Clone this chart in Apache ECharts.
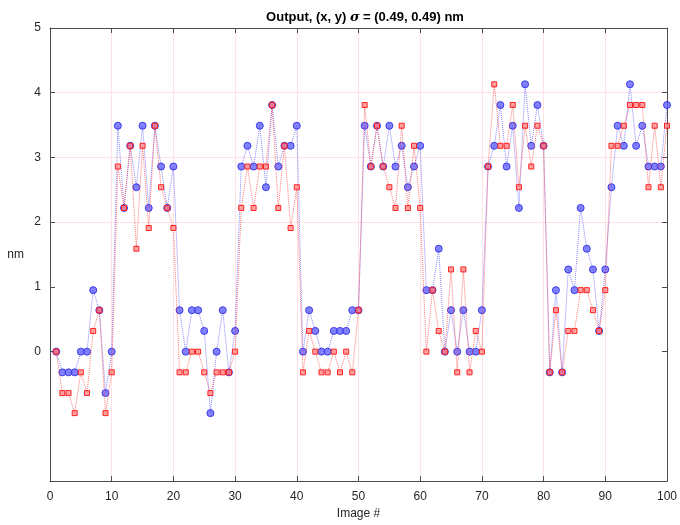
<!DOCTYPE html>
<html>
<head>
<meta charset="utf-8">
<script src="https://cdn.jsdelivr.net/npm/echarts@6/dist/echarts.min.js"></script>
<style>html,body{margin:0;padding:0;background:#fff}#c{width:680px;height:525px}</style>
</head>
<body>
<div id="c"></div>
<script>
// Image numbers 1..100
const imageNumbers = [];
for (let i = 1; i <= 100; i++) imageNumbers.push(i);

// x output (blue circles), nm
const xOutput = [
  0, -0.32, -0.32, -0.32, 0, 0, 0.95, 0.64, -0.64, 0,
  3.49, 2.22, 3.18, 2.54, 3.49, 2.22, 3.49, 2.86, 2.22, 2.86,
  0.64, 0, 0.64, 0.64, 0.32, -0.95, 0, 0.64, -0.32, 0.32,
  2.86, 3.18, 2.86, 3.49, 2.54, 3.81, 2.86, 3.18, 3.18, 3.49,
  0, 0.64, 0.32, 0, 0, 0.32, 0.32, 0.32, 0.64, 0.64,
  3.49, 2.86, 3.49, 2.86, 3.49, 2.86, 3.18, 2.54, 2.86, 3.18,
  0.95, 0.95, 1.59, 0, 0.64, 0, 0.64, 0, 0, 0.64,
  2.86, 3.18, 3.81, 2.86, 3.49, 2.22, 4.13, 3.18, 3.81, 3.18,
  -0.32, 0.95, -0.32, 1.27, 0.95, 2.22, 1.59, 1.27, 0.32, 1.27,
  2.54, 3.49, 3.18, 4.13, 3.18, 3.49, 2.86, 2.86, 2.86, 3.81
];

// y output (red squares), nm
const yOutput = [
  0, -0.64, -0.64, -0.95, -0.32, -0.64, 0.32, 0.64, -0.95, -0.32,
  2.86, 2.22, 3.18, 1.59, 3.18, 1.91, 3.49, 2.54, 2.22, 1.91,
  -0.32, -0.32, 0, 0, -0.32, -0.64, -0.32, -0.32, -0.32, 0,
  2.22, 2.86, 2.22, 2.86, 2.86, 3.81, 2.22, 3.18, 1.91, 2.54,
  -0.32, 0.32, 0, -0.32, -0.32, 0, -0.32, 0, -0.32, 0.64,
  3.81, 2.86, 3.49, 2.86, 2.54, 2.22, 3.49, 2.22, 3.18, 2.22,
  0, 0.95, 0.32, 0, 1.27, -0.32, 1.27, -0.32, 0.32, 0,
  2.86, 4.13, 3.18, 3.18, 3.81, 2.54, 3.49, 2.86, 3.49, 3.18,
  -0.32, 0.64, -0.32, 0.32, 0.32, 0.95, 0.95, 0.64, 0.32, 0.95,
  3.18, 3.18, 3.49, 3.81, 3.81, 3.81, 2.54, 3.49, 2.54, 3.49
];

const xTicks = [0, 10, 20, 30, 40, 50, 60, 70, 80, 90, 100];
const yTicks = [0, 1, 2, 3, 4, 5];

const pairs = (xs, ys) => xs.map((v, i) => [v, ys[i]]);

const axisColor = '#4d4d4d';
const labelColor = '#262626';
const gridColor = '#fde3e3';
const font = 'Liberation Sans, Arial, Helvetica, sans-serif';

const chart = echarts.init(document.getElementById('c'), null, {renderer: 'canvas'});
chart.setOption({
  animation: false,
  backgroundColor: '#fff',
  title: {
    text: '{b|Output, (x, y) }{i|σ}{b| = (0.49, 0.49) nm}',
    left: 360, top: 6, textAlign: 'center',
    textStyle: {
      rich: {
        b: {fontFamily: font, fontWeight: 'bold', fontSize: 13, color: '#000'},
        i: {fontFamily: 'DejaVu Serif, serif', fontStyle: 'italic', fontSize: 13, color: '#000'}
      }
    }
  },
  grid: {left: 50, right: 10, top: 28, bottom: 41, show: false},
  xAxis: [{
    type: 'value', min: 0, max: 100, interval: 10,
    name: 'Image #', nameLocation: 'middle', nameGap: 24,
    nameTextStyle: {fontFamily: font, fontSize: 12, color: labelColor},
    axisLine: {show: true, onZero: false, lineStyle: {color: axisColor, width: 1}},
    axisTick: {show: true, inside: true, length: 5, customValues: xTicks, lineStyle: {color: axisColor}},
    axisLabel: {fontFamily: font, fontSize: 12, color: labelColor, margin: 10, customValues: xTicks},
    splitLine: {show: true, lineStyle: {color: gridColor, width: 1}}
  }, {
    type: 'value', min: 0, max: 100, interval: 10, position: 'top',
    axisLine: {show: true, onZero: false, lineStyle: {color: axisColor, width: 1}},
    axisTick: {show: true, inside: true, length: 5, lineStyle: {color: axisColor}},
    axisLabel: {show: false}, splitLine: {show: false}
  }],
  yAxis: [{
    type: 'value', min: -2, max: 5, interval: 1,
    name: 'nm', nameLocation: 'middle', nameGap: 26, nameRotate: 0,
    nameTextStyle: {fontFamily: font, fontSize: 12, color: labelColor},
    axisLine: {show: true, onZero: false, lineStyle: {color: axisColor, width: 1}},
    axisTick: {show: true, inside: true, length: 5, customValues: yTicks, lineStyle: {color: axisColor}},
    axisLabel: {fontFamily: font, fontSize: 12, color: labelColor, margin: 9, customValues: yTicks},
    splitLine: {show: true, lineStyle: {color: ['rgba(0,0,0,0)', 'rgba(0,0,0,0)', gridColor, gridColor, gridColor, gridColor, gridColor, 'rgba(0,0,0,0)'], width: 1}}
  }, {
    type: 'value', min: -2, max: 5, interval: 1, position: 'right',
    axisLine: {show: true, onZero: false, lineStyle: {color: axisColor, width: 1}},
    axisTick: {show: true, inside: true, length: 5, customValues: yTicks, lineStyle: {color: axisColor}},
    axisLabel: {show: false}, splitLine: {show: false}
  }],
  series: [{
    name: 'x', type: 'line',
    data: pairs(imageNumbers, xOutput),
    symbol: 'circle', symbolSize: 7,
    itemStyle: {color: 'rgba(100,100,255,0.8)', borderColor: '#3a3ae6', borderWidth: 1},
    lineStyle: {color: 'rgba(80,80,255,0.7)', width: 1, type: 'dotted'},
    z: 2
  }, {
    name: 'y', type: 'line',
    data: pairs(imageNumbers, yOutput),
    symbol: 'rect', symbolSize: 5,
    itemStyle: {color: 'rgba(255,130,130,0.7)', borderColor: '#ff2020', borderWidth: 1},
    lineStyle: {color: 'rgba(255,60,60,0.7)', width: 1, type: 'dotted'},
    z: 3
  }]
});
</script>
</body>
</html>
